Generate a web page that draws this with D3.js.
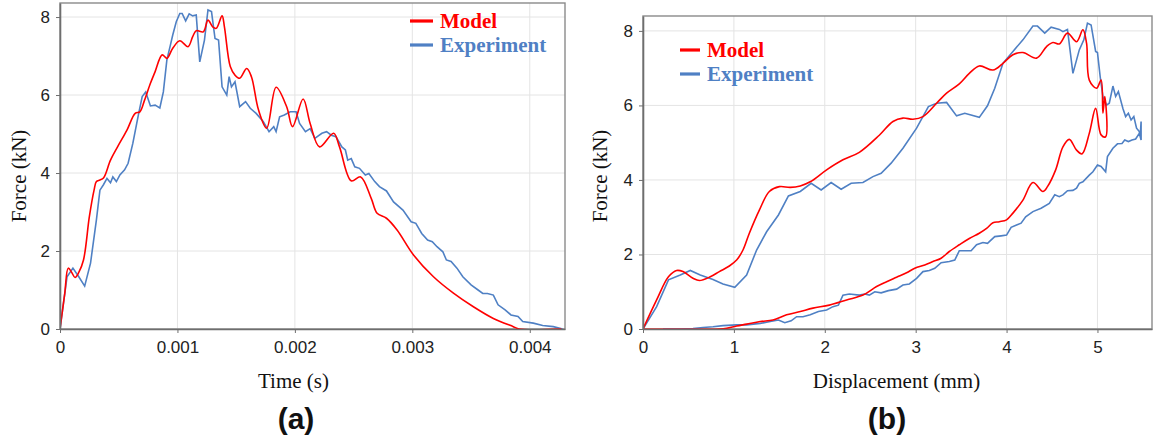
<html>
<script src='https://d3js.org/d3.v7.min.js'></script>
<style>
body { margin: 0; background: #fff; }
.tick text { font-family: 'Liberation Sans', Arial, sans-serif; font-size: 17px; fill: #222; }
.axis path, .axis line { stroke: #6e6e6e; }
.grid line { stroke: #e4e4e4; stroke-width: 1; }
.title { font-family: 'Liberation Serif', 'Times New Roman', serif; font-size: 21px; fill: #111; }
.legend { font-family: 'Liberation Serif', 'Times New Roman', serif; font-size: 21px; font-weight: bold; }
.tag { font-family: 'Liberation Sans', Arial, sans-serif; font-size: 30px; font-weight: bold; fill: #111; }
</style>
<body onload='init()'>
<svg width=1153 height=443></svg>
<script>
// (a) force vs time, seconds / kN
var modelA = [[0,0],[0.00004,0.9],[0.00007,1.56],[0.0001,1.45],[0.000128,1.32],[0.00016,1.45],[0.0002,1.77],[0.00025,2.88],[0.00029,3.56],[0.00031,3.78],[0.00034,3.82],[0.00037,3.87],[0.00043,4.33],[0.00049,4.67],[0.00057,5.1],[0.00064,5.53],[0.00068,5.57],[0.00072,5.87],[0.00077,6.3],[0.00081,6.6],[0.00087,7.03],[0.00091,6.94],[0.00096,7.2],[0.00102,7.39],[0.00109,7.24],[0.00113,7.5],[0.00116,7.65],[0.00122,7.62],[0.00126,7.92],[0.0013,7.75],[0.00133,7.71],[0.00138,8.03],[0.0014,7.75],[0.00145,6.73],[0.00149,6.51],[0.00153,6.43],[0.00159,6.68],[0.00163,6.47],[0.00169,5.62],[0.00176,5.15],[0.00184,6.2],[0.00193,5.7],[0.00198,5.19],[0.00207,5.9],[0.00213,5.27],[0.00221,4.67],[0.00233,5.02],[0.00238,4.67],[0.00248,3.8],[0.00256,3.9],[0.00265,3.35],[0.0027,2.97],[0.00278,2.84],[0.00287,2.54],[0.00301,1.9],[0.00318,1.34],[0.00335,0.92],[0.00352,0.57],[0.00369,0.27],[0.00386,0.06],[0.00391,0],[0.00427,0]];
var expA = [[0,0],[0.00006,1.34],[0.00011,1.56],[0.00016,1.34],[0.00021,1.1],[0.00026,1.69],[0.00031,2.8],[0.00034,3.56],[0.00037,3.7],[0.0004,3.86],[0.00043,3.75],[0.00045,3.9],[0.00048,3.78],[0.00051,3.95],[0.00055,4.08],[0.00058,4.25],[0.00062,4.76],[0.00067,5.53],[0.0007,5.96],[0.00073,6.08],[0.00075,5.9],[0.00077,5.72],[0.00081,5.74],[0.00085,5.67],[0.00088,6.08],[0.00091,6.9],[0.00094,7.28],[0.00096,7.54],[0.00099,7.88],[0.00102,8.09],[0.00104,8.09],[0.00107,7.9],[0.0011,8.08],[0.00113,8.03],[0.00116,8.05],[0.00119,6.85],[0.00123,7.41],[0.00126,8.18],[0.00129,8.14],[0.00132,7.45],[0.00135,7.41],[0.00138,6.21],[0.00142,6.0],[0.00144,6.47],[0.00146,6.21],[0.00149,6.34],[0.00153,5.7],[0.00158,5.83],[0.00162,5.66],[0.00167,5.53],[0.00173,5.32],[0.00178,5.06],[0.00182,5.19],[0.00184,5.06],[0.00187,5.44],[0.00191,5.49],[0.00196,5.57],[0.00201,5.57],[0.00204,5.27],[0.00209,5.06],[0.00213,5.14],[0.00217,4.89],[0.00223,5.02],[0.00227,5.06],[0.00231,4.97],[0.00235,4.93],[0.0024,4.67],[0.00243,4.59],[0.00245,4.33],[0.00248,4.37],[0.00251,4.16],[0.00255,4.12],[0.0026,3.95],[0.00263,3.99],[0.00268,3.78],[0.00272,3.65],[0.00278,3.54],[0.00284,3.26],[0.00292,3.05],[0.00299,2.75],[0.00303,2.71],[0.00308,2.45],[0.00313,2.28],[0.00317,2.24],[0.00321,2.11],[0.00326,1.98],[0.00329,1.77],[0.00333,1.73],[0.00338,1.56],[0.00343,1.34],[0.0035,1.13],[0.00356,1.0],[0.0036,0.91],[0.00364,0.91],[0.00369,0.87],[0.00373,0.62],[0.00379,0.49],[0.00384,0.36],[0.0039,0.32],[0.00394,0.19],[0.00403,0.15],[0.00411,0.09],[0.0042,0.06],[0.00428,0.0]];

// (b) force vs displacement, mm / kN (loading then unloading)
var modelB = [[0,0],[0.15,0.78],[0.28,1.4],[0.37,1.57],[0.44,1.54],[0.55,1.36],[0.62,1.3],[0.74,1.4],[0.84,1.54],[0.95,1.69],[1.03,1.85],[1.1,2.12],[1.17,2.57],[1.28,3.19],[1.39,3.69],[1.5,3.82],[1.62,3.8],[1.73,3.84],[1.84,3.95],[2.02,4.27],[2.2,4.54],[2.38,4.74],[2.6,5.2],[2.75,5.57],[2.86,5.66],[2.97,5.63],[3.08,5.7],[3.23,6.06],[3.34,6.33],[3.48,6.58],[3.59,6.86],[3.7,7.06],[3.85,6.95],[3.96,7.13],[4.07,7.36],[4.18,7.42],[4.33,7.27],[4.44,7.58],[4.51,7.69],[4.58,7.65],[4.67,7.94],[4.77,7.71],[4.84,8.03],[4.88,7.67],[4.91,6.68],[4.99,6.46],[5.04,6.68],[5.06,5.79],[5.08,6.24],[5.09,5.16],
  [5.04,5.21],[4.98,5.92],[4.91,5.25],[4.83,4.7],[4.77,4.8],[4.69,5.09],[4.62,4.89],[4.54,4.27],[4.45,3.82],[4.4,3.69],[4.29,3.93],[4.18,3.46],[4.07,3.11],[4.0,2.93],[3.92,2.88],[3.85,2.85],[3.78,2.7],[3.7,2.57],[3.59,2.43],[3.48,2.26],[3.37,2.08],[3.28,1.9],[3.19,1.81],[3.1,1.72],[2.99,1.63],[2.9,1.51],[2.79,1.39],[2.68,1.27],[2.57,1.14],[2.42,0.91],[2.24,0.78],[2.05,0.64],[1.87,0.56],[1.73,0.47],[1.58,0.38],[1.43,0.24],[1.29,0.2],[1.14,0.13],[1.03,0.08],[0.92,0.02],[0.84,0],[0,0]];
var expB = [[0,0],[0.15,0.6],[0.28,1.32],[0.41,1.45],[0.52,1.57],[0.63,1.45],[0.77,1.33],[0.88,1.21],[1.01,1.12],[1.14,1.45],[1.25,2.12],[1.36,2.61],[1.49,3.06],[1.6,3.57],[1.73,3.69],[1.85,3.91],[1.96,3.73],[2.07,3.93],[2.18,3.75],[2.29,3.91],[2.42,3.93],[2.53,4.09],[2.62,4.18],[2.73,4.45],[2.86,4.85],[3.01,5.39],[3.14,5.97],[3.23,6.06],[3.34,6.08],[3.45,5.72],[3.54,5.79],[3.7,5.68],[3.79,5.99],[3.87,6.46],[3.96,7.13],[4.07,7.45],[4.18,7.76],[4.29,8.13],[4.34,8.13],[4.42,7.94],[4.49,8.1],[4.58,8.04],[4.62,7.98],[4.67,8.04],[4.73,6.86],[4.8,7.49],[4.85,7.76],[4.89,8.21],[4.93,8.16],[4.98,7.45],[5.0,7.42],[5.03,6.77],[5.06,6.24],[5.1,6.01],[5.13,6.06],[5.17,6.52],[5.2,6.24],[5.23,6.37],[5.28,5.92],[5.31,5.7],[5.34,5.79],[5.37,5.61],[5.4,5.7],[5.43,5.39],[5.46,5.3],[5.47,5.16],[5.48,5.57],[5.48,5.07],
  [5.46,5.25],[5.42,5.1],[5.38,5.07],[5.34,5.03],[5.3,5.07],[5.27,4.98],[5.22,4.97],[5.17,4.85],[5.11,4.63],[5.09,4.22],[5.04,4.36],[5.0,4.4],[4.95,4.22],[4.91,4.13],[4.84,3.95],[4.8,3.91],[4.77,3.78],[4.73,3.72],[4.67,3.71],[4.62,3.6],[4.58,3.55],[4.53,3.6],[4.47,3.37],[4.38,3.24],[4.29,3.15],[4.21,3.01],[4.16,2.84],[4.11,2.79],[4.05,2.73],[4.0,2.52],[3.94,2.5],[3.87,2.48],[3.79,2.3],[3.74,2.32],[3.67,2.26],[3.61,2.1],[3.48,2.1],[3.43,1.85],[3.37,1.81],[3.28,1.78],[3.21,1.63],[3.15,1.57],[3.08,1.54],[3.01,1.36],[2.93,1.21],[2.86,1.18],[2.79,1.07],[2.7,1.03],[2.62,0.97],[2.55,1.0],[2.49,0.91],[2.44,0.94],[2.38,0.91],[2.27,0.94],[2.2,0.91],[2.15,0.64],[2.09,0.6],[2.02,0.51],[1.93,0.47],[1.84,0.38],[1.76,0.33],[1.69,0.33],[1.63,0.22],[1.56,0.17],[1.49,0.24],[1.4,0.2],[1.29,0.15],[1.14,0.11],[1.03,0.11],[0.88,0.09],[0.77,0.06],[0.66,0.04],[0.55,0.01],[0.41,0],[0.22,0]];

var timeTicks = [0, 0.001, 0.002, 0.003, 0.004];
var dispTicks = [0, 1, 2, 3, 4, 5];
var forceTicks = [0, 2, 4, 6, 8];
var seriesNames = ["Model", "Experiment"];
var seriesColors = ["#ff0000", "#4f80c4"];

function init() {
  var svg = d3.select("svg");

  function panel(opt) {
    var x = d3.scaleLinear().domain(opt.xDomain).range([opt.left, opt.right]);
    var y = d3.scaleLinear().domain(opt.yDomain).range([329, opt.top]);
    var g = svg.append("g");

    g.append("clipPath").attr("id", opt.id)
      .append("rect").attr("x", opt.left).attr("y", opt.top)
      .attr("width", opt.right - opt.left).attr("height", 329 - opt.top);

    var grid = g.append("g").attr("class", "grid");
    grid.selectAll(".gx").data(opt.xTicks).enter().append("line")
      .attr("x1", d => x(d)).attr("x2", d => x(d))
      .attr("y1", opt.top).attr("y2", 329);
    grid.selectAll(".gy").data(forceTicks).enter().append("line")
      .attr("y1", d => y(d)).attr("y2", d => y(d))
      .attr("x1", opt.left).attr("x2", opt.right);

    g.append("rect").attr("x", opt.left).attr("y", opt.top)
      .attr("width", opt.right - opt.left).attr("height", 329 - opt.top)
      .attr("fill", "none").attr("stroke", "#8a8a8a").attr("stroke-width", 1.4);

    var line = d3.line().x(d => x(d[0])).y(d => y(d[1]));
    var lines = g.append("g").attr("clip-path", "url(#" + opt.id + ")");
    lines.append("path").datum(opt.exp)
      .attr("d", line.curve(d3.curveLinear))
      .attr("fill", "none").attr("stroke", seriesColors[1]).attr("stroke-width", 1.6);
    lines.append("path").datum(opt.model)
      .attr("d", line.curve(d3.curveCatmullRom.alpha(0.5)))
      .attr("fill", "none").attr("stroke", seriesColors[0]).attr("stroke-width", 1.6);

    g.append("g").attr("class", "axis")
      .attr("transform", "translate(0,329)")
      .call(d3.axisBottom(x).tickValues(opt.xTicks).tickSize(4).tickSizeOuter(0)
        .tickPadding(8).tickFormat(d3.format("~g")))
      .select(".domain").attr("stroke-width", 1.6);
    g.append("g").attr("class", "axis")
      .attr("transform", "translate(" + opt.left + ",0)")
      .call(d3.axisLeft(y).tickValues(forceTicks).tickSize(4).tickSizeOuter(0).tickPadding(6))
      .select(".domain").attr("stroke-width", 1.6);

    g.append("text").attr("class", "title")
      .attr("transform", "translate(" + opt.yTitleX + ",176) rotate(-90)")
      .attr("text-anchor", "middle").text("Force (kN)");
    g.append("text").attr("class", "title")
      .attr("x", (opt.left + opt.right) / 2 + opt.xTitleShift).attr("y", 388)
      .attr("text-anchor", "middle").text(opt.xTitle);
    g.append("text").attr("class", "tag")
      .attr("x", opt.tagX).attr("y", 429)
      .attr("text-anchor", "middle").text(opt.tag);

    var lg = g.append("g").selectAll("g").data(seriesNames).enter().append("g")
      .attr("transform", (d, i) => "translate(" + opt.legX + "," + (opt.legY + i * 24) + ")");
    lg.append("line").attr("x1", 0).attr("x2", opt.legLen).attr("y1", -7).attr("y2", -7)
      .attr("stroke", (d, i) => seriesColors[i]).attr("stroke-width", 3.2);
    lg.append("text").attr("class", "legend").attr("x", opt.legLen + 7)
      .attr("fill", (d, i) => seriesColors[i]).text(d => d);
  }

  panel({ id: "clipA", left: 60, right: 565, top: 3, xDomain: [0, 0.0043], yDomain: [0, 8.36],
    xTicks: timeTicks, model: modelA, exp: expA, yTitleX: 26, xTitle: "Time (s)", xTitleShift: -19,
    tag: "(a)", tagX: 296, legX: 410, legY: 28, legLen: 23 });
  panel({ id: "clipB", left: 643, right: 1152, top: 16, xDomain: [0, 5.6], yDomain: [0, 8.4],
    xTicks: dispTicks, model: modelB, exp: expB, yTitleX: 607, xTitle: "Displacement (mm)", xTitleShift: -1,
    tag: "(b)", tagX: 887, legX: 680, legY: 57, legLen: 20 });
}
</script>
</body>
</html>
